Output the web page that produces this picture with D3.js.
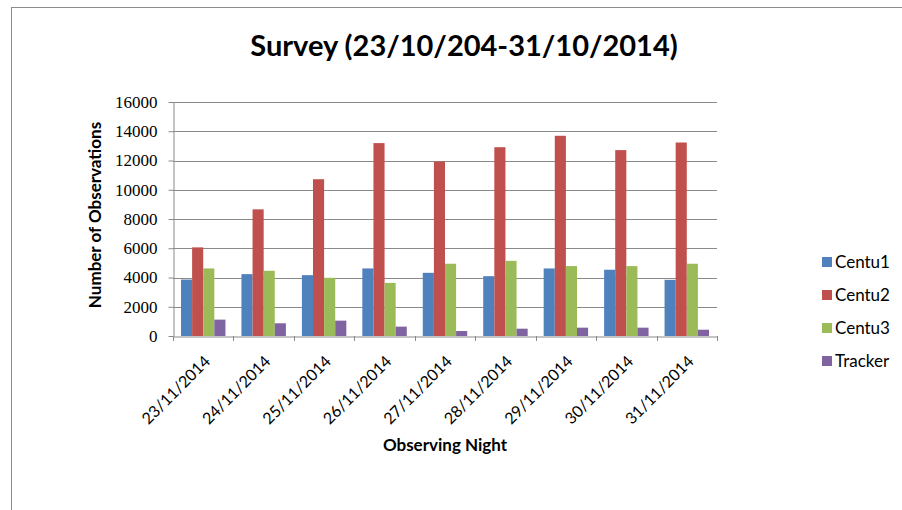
<!DOCTYPE html>
<html><head><meta charset="utf-8">
<script src="https://cdn.jsdelivr.net/npm/d3@7"></script>
<style>body{margin:0;background:#fff}svg{display:block}</style>
</head><body>
<script>
const categories = ["23/11/2014","24/11/2014","25/11/2014","26/11/2014","27/11/2014","28/11/2014","29/11/2014","30/11/2014","31/11/2014"];
const seriesNames = ["Centu1","Centu2","Centu3","Tracker"];
const centu1 = [3860,4230,4160,4620,4320,4090,4620,4530,3840];
const centu2 = [6060,8660,10720,13190,11930,12910,13690,12710,13230];
const centu3 = [4620,4460,3980,3630,4940,5140,4780,4780,4940];
const tracker = [1120,870,1050,640,340,500,570,570,430];
const yTicks = [0,2000,4000,6000,8000,10000,12000,14000,16000];
const colors = ["#4F81BD","#C0504D","#9BBB59","#8064A2"];
const seriesValues = [centu1,centu2,centu3,tracker];

const W=902,H=510;
const svg=d3.select("body").append("svg").attr("width",W).attr("height",H);
svg.append("rect").attr("x",0).attr("y",0).attr("width",W).attr("height",H).attr("fill","#fff");
svg.append("rect").attr("x",11.5).attr("y",7.5).attr("width",W).attr("height",H).attr("fill","none").attr("stroke","#8c8c8c").attr("stroke-width",1);

const L=173,R=717,T=102,B=336;
const x=d3.scaleBand().domain(categories).range([L,R]).padding(0);
const y=d3.scaleLinear().domain([0,16000]).range([B,T]);
const gap=16;
const xs=d3.scaleBand().domain(seriesNames).range([gap/2,x.bandwidth()-gap/2]).padding(0);

const sans="Lato, 'Open Sans', sans-serif";
// gridlines
svg.append("g").selectAll("line").data(yTicks.filter(d=>d>0)).join("line")
  .attr("x1",L).attr("x2",R).attr("y1",d=>Math.round(y(d))+0.5).attr("y2",d=>Math.round(y(d))+0.5)
  .attr("stroke","#8a8a8a").attr("stroke-width",1);

// bars
seriesNames.forEach((s,i)=>{
  svg.append("g").selectAll("rect").data(seriesValues[i]).join("rect")
    .attr("x",(d,j)=>x(categories[j])+xs(s))
    .attr("width",xs.bandwidth())
    .attr("y",d=>y(d)).attr("height",d=>B-y(d))
    .attr("fill",colors[i]);
});

// y axis
const yAxis=d3.axisLeft(y).tickValues(yTicks).tickFormat(d3.format("d")).tickSize(5).tickSizeOuter(0);
const gy=svg.append("g").attr("transform",`translate(${L+0.5},0)`).call(yAxis);
gy.select(".domain").attr("stroke","#8a8a8a");
gy.selectAll(".tick line").attr("stroke","#8a8a8a");
gy.selectAll(".tick text").attr("font-family","'Liberation Serif', 'DejaVu Serif', serif").attr("font-size","17px").attr("fill","#000").attr("x",-16);

// x axis
const xAxis=d3.axisBottom(x).tickSize(0).tickSizeOuter(0);
const gx=svg.append("g").attr("transform",`translate(0,${B+0.5})`).call(xAxis);
gx.select(".domain").attr("stroke","#8a8a8a");
gx.selectAll(".tick text")
  .attr("font-family",sans).attr("font-size","16px").attr("fill","#000")
  .attr("text-anchor","end").attr("dy","0.35em")
  .attr("transform","translate(4,22) rotate(-45)").attr("y",0).attr("x",0);
// category separators
svg.append("g").selectAll("line").data(categories.concat(["end"])).join("line")
  .attr("x1",(d,i)=>Math.round(L+i*x.bandwidth())+0.5).attr("x2",(d,i)=>Math.round(L+i*x.bandwidth())+0.5)
  .attr("y1",B).attr("y2",B+5).attr("stroke","#8a8a8a");

// titles
svg.append("text").attr("x",464).attr("y",56).attr("text-anchor","middle")
  .attr("font-family",sans).attr("font-weight","bold").attr("font-size","29px").attr("fill","#000")
  .text("Survey (23/10/204-31/10/2014)");
svg.append("text").attr("transform",`translate(101,${(T+B)/2-4}) rotate(-90)`).attr("text-anchor","middle")
  .attr("font-family",sans).attr("font-weight","bold").attr("font-size","17px").attr("fill","#000")
  .text("Number of Observations");
svg.append("text").attr("x",445).attr("y",451).attr("text-anchor","middle")
  .attr("font-family",sans).attr("font-weight","bold").attr("font-size","17px").attr("fill","#000")
  .text("Observing Night");

// legend
const lg=svg.append("g");
const legY=[262,295,328,361];
seriesNames.forEach((s,i)=>{
  lg.append("rect").attr("x",822).attr("y",legY[i]-5).attr("width",10).attr("height",10).attr("fill",colors[i]);
  lg.append("text").attr("x",835).attr("y",legY[i]).attr("dy","0.35em")
    .attr("font-family",sans).attr("font-size","17px").attr("fill","#000").text(s);
});
</script>
</body></html>
